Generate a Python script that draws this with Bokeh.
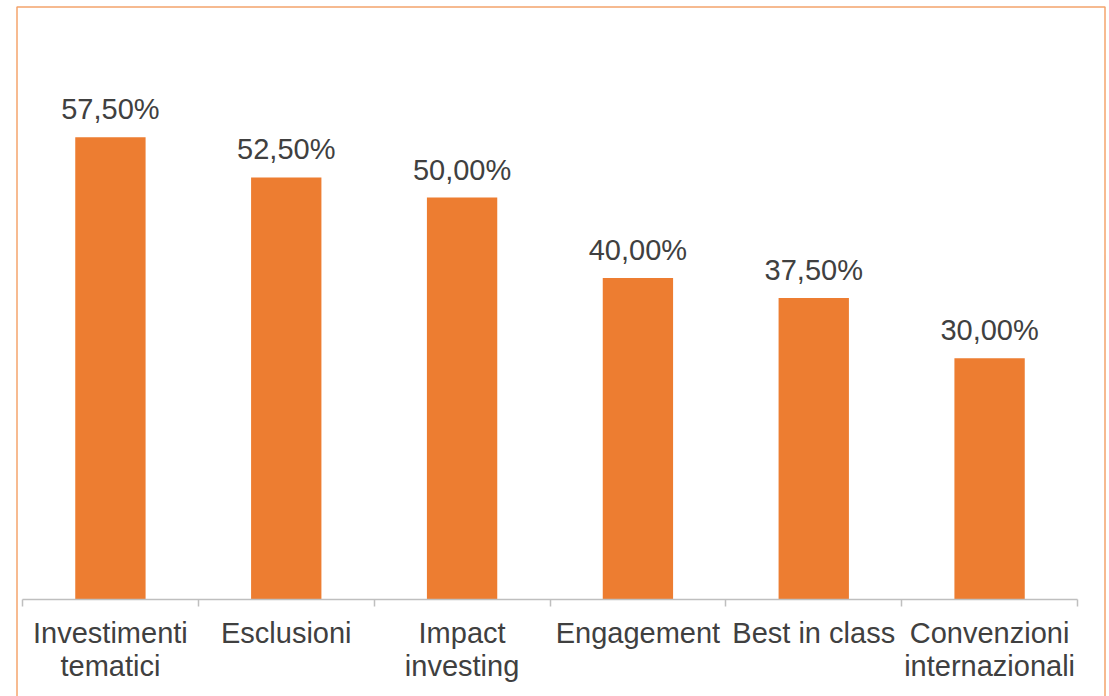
from bokeh.plotting import figure
from bokeh.models import Range1d, LinearAxis, FixedTicker, BoxAnnotation, ColumnDataSource
from bokeh.core.properties import value
from bokeh.embed import file_html
from bokeh.resources import INLINE

categories = ["Investimenti\ntematici", "Esclusioni", "Impact\ninvesting",
              "Engagement", "Best in class", "Convenzioni\ninternazionali"]
values = [57.5, 52.5, 50.0, 40.0, 37.5, 30.0]
labels = [f"{v:.2f}".replace(".", ",") + "%" for v in values]

FONT = "Liberation Sans"
TEXT_COLOR = "#404040"
BAR_COLOR = "#ED7D31"

W, H = 1109, 696
px_x = 1055 / 6.0          # pixels per category
x_start = -22 / px_x
x_end = x_start + W / px_x
px_y = 8.04
AX_Y = 599
y_end = AX_Y / px_y
y_start = -(H - AX_Y) / px_y

p = figure(width=W, height=H, output_backend="svg", toolbar_location=None,
           x_range=Range1d(x_start, x_end), y_range=Range1d(y_start, y_end),
           x_axis_type=None, y_axis_type=None,
           min_border_left=0, min_border_right=0, min_border_top=0, min_border_bottom=0)
p.outline_line_color = None
p.background_fill_color = "white"
p.border_fill_color = "white"

n = len(categories)
centers = [i + 0.5 for i in range(n)]
src = ColumnDataSource(dict(x=centers, top=values, label=labels))

p.vbar(x="x", top="top", bottom=0, width=0.4, source=src,
       fill_color=BAR_COLOR, line_color=None)

p.text(x="x", y="top", text="label", source=src, text_align="center",
       text_baseline="alphabetic", y_offset=-28,
       text_font=value(FONT), text_font_size="29px", text_color=TEXT_COLOR)

# axis with boundary ticks (no labels)
ax1 = LinearAxis(ticker=FixedTicker(ticks=list(range(n + 1))), fixed_location=0,
                 bounds=(0, n),
                 major_label_overrides={i: "" for i in range(n + 1)},
                 major_tick_in=0, major_tick_out=7, minor_tick_line_color=None,
                 axis_line_color="#BFBFBF", axis_line_width=1.5,
                 major_tick_line_color="#BFBFBF", major_tick_line_width=1.5)
# axis with category labels
ax2 = LinearAxis(ticker=FixedTicker(ticks=centers), fixed_location=0,
                 major_label_overrides={c: lab for c, lab in zip(centers, categories)},
                 major_tick_in=0, major_tick_out=0, minor_tick_line_color=None,
                 major_tick_line_color=None, axis_line_color=None,
                 major_label_standoff=17,
                 major_label_text_font=FONT, major_label_text_font_size="29px",
                 major_label_text_color=TEXT_COLOR,
                 major_label_text_line_height=1.06)
p.add_layout(ax1, "below")
p.add_layout(ax2, "below")

# orange chart-area border (x 16.5 .. 1104, top 6.5, bottom beyond window)
border = BoxAnnotation(left=x_start + 16.5 / px_x, right=x_start + 1104.5 / px_x,
                       top=y_end - 6.5 / px_y, bottom=y_start - 10,
                       fill_alpha=0, line_color="#F4A46C", line_alpha=1.0, line_width=1.5)
p.add_layout(border)

open("out.html", "w").write(file_html(p, INLINE))
